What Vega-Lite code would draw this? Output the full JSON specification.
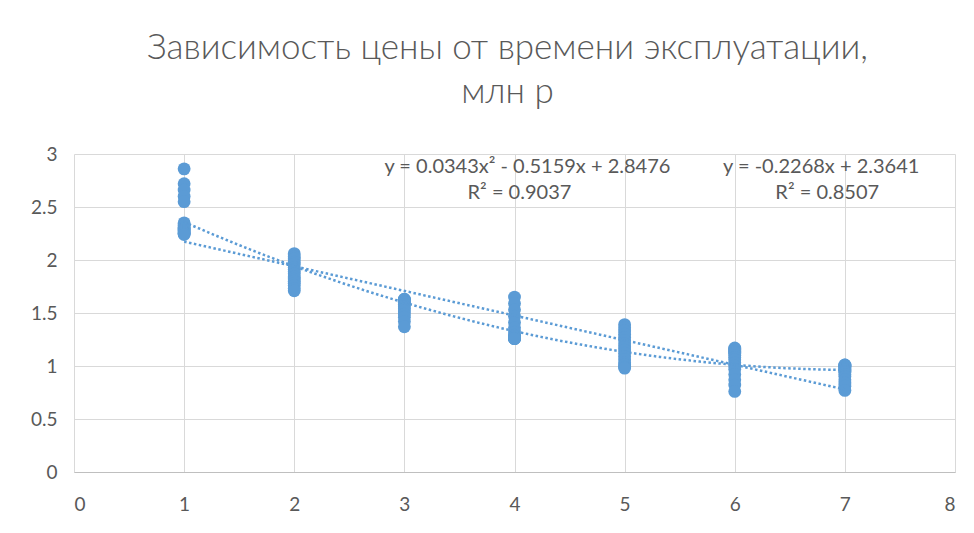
{
  "$schema": "https://vega.github.io/schema/vega-lite/v6.json",
  "width": 881,
  "height": 318,
  "autosize": {"type": "none"},
  "padding": {"left": 74, "top": 154, "right": 19, "bottom": 61},
  "background": "white",
  "title": {
    "text": ["Зависимость цены от времени эксплуатации,", "млн р"],
    "fontSize": 35,
    "font": "Lato, Noto Sans, sans-serif",
    "fontWeight": 300,
    "color": "#595959",
    "lineHeight": 44,
    "offset": 35,
    "dx": -7,
    "anchor": "middle"
  },
  "config": {
    "view": {"stroke": null},
    "axis": {
      "title": null,
      "ticks": false,
      "grid": true,
      "gridColor": "#d9d9d9",
      "gridWidth": 1,
      "labelFont": "Lato, Noto Sans, sans-serif",
      "labelFontSize": 19,
      "labelColor": "#595959"
    }
  },
  "datasets": {
    "points": [
      {"year": 1, "price": 2.86}, {"year": 1, "price": 2.72}, {"year": 1, "price": 2.66}, {"year": 1, "price": 2.60},
      {"year": 1, "price": 2.55}, {"year": 1, "price": 2.35}, {"year": 1, "price": 2.33}, {"year": 1, "price": 2.31},
      {"year": 1, "price": 2.30}, {"year": 1, "price": 2.29}, {"year": 1, "price": 2.28}, {"year": 1, "price": 2.27},
      {"year": 1, "price": 2.26}, {"year": 1, "price": 2.25}, {"year": 1, "price": 2.25}, {"year": 1, "price": 2.24},
      {"year": 2, "price": 2.06}, {"year": 2, "price": 2.03}, {"year": 2, "price": 2.01}, {"year": 2, "price": 1.98},
      {"year": 2, "price": 1.96}, {"year": 2, "price": 1.93}, {"year": 2, "price": 1.91}, {"year": 2, "price": 1.89},
      {"year": 2, "price": 1.87}, {"year": 2, "price": 1.84}, {"year": 2, "price": 1.82}, {"year": 2, "price": 1.80},
      {"year": 2, "price": 1.78}, {"year": 2, "price": 1.76}, {"year": 2, "price": 1.73}, {"year": 2, "price": 1.71},
      {"year": 3, "price": 1.63}, {"year": 3, "price": 1.63}, {"year": 3, "price": 1.62}, {"year": 3, "price": 1.62},
      {"year": 3, "price": 1.61}, {"year": 3, "price": 1.61}, {"year": 3, "price": 1.60}, {"year": 3, "price": 1.60},
      {"year": 3, "price": 1.58}, {"year": 3, "price": 1.56}, {"year": 3, "price": 1.54}, {"year": 3, "price": 1.52},
      {"year": 3, "price": 1.49}, {"year": 3, "price": 1.46}, {"year": 3, "price": 1.42}, {"year": 3, "price": 1.37},
      {"year": 4, "price": 1.65}, {"year": 4, "price": 1.59}, {"year": 4, "price": 1.53}, {"year": 4, "price": 1.47},
      {"year": 4, "price": 1.41}, {"year": 4, "price": 1.36}, {"year": 4, "price": 1.32}, {"year": 4, "price": 1.29},
      {"year": 4, "price": 1.28}, {"year": 4, "price": 1.27}, {"year": 4, "price": 1.27}, {"year": 4, "price": 1.26},
      {"year": 4, "price": 1.26}, {"year": 4, "price": 1.26}, {"year": 4, "price": 1.26}, {"year": 4, "price": 1.26},
      {"year": 5, "price": 1.39}, {"year": 5, "price": 1.36}, {"year": 5, "price": 1.33}, {"year": 5, "price": 1.30},
      {"year": 5, "price": 1.27}, {"year": 5, "price": 1.24}, {"year": 5, "price": 1.21}, {"year": 5, "price": 1.18},
      {"year": 5, "price": 1.15}, {"year": 5, "price": 1.12}, {"year": 5, "price": 1.09}, {"year": 5, "price": 1.06},
      {"year": 5, "price": 1.03}, {"year": 5, "price": 1.01}, {"year": 5, "price": 0.99}, {"year": 5, "price": 0.98},
      {"year": 6, "price": 1.17}, {"year": 6, "price": 1.16}, {"year": 6, "price": 1.15}, {"year": 6, "price": 1.14},
      {"year": 6, "price": 1.13}, {"year": 6, "price": 1.12}, {"year": 6, "price": 1.10}, {"year": 6, "price": 1.08},
      {"year": 6, "price": 1.06}, {"year": 6, "price": 1.03}, {"year": 6, "price": 1.00}, {"year": 6, "price": 0.97},
      {"year": 6, "price": 0.92}, {"year": 6, "price": 0.87}, {"year": 6, "price": 0.82}, {"year": 6, "price": 0.76},
      {"year": 7, "price": 1.01}, {"year": 7, "price": 1.01}, {"year": 7, "price": 1.00}, {"year": 7, "price": 1.00},
      {"year": 7, "price": 0.99}, {"year": 7, "price": 0.98}, {"year": 7, "price": 0.97}, {"year": 7, "price": 0.96},
      {"year": 7, "price": 0.95}, {"year": 7, "price": 0.94}, {"year": 7, "price": 0.92}, {"year": 7, "price": 0.90},
      {"year": 7, "price": 0.87}, {"year": 7, "price": 0.84}, {"year": 7, "price": 0.81}, {"year": 7, "price": 0.77}
    ],
    "notes": [
      {"nx": 4.117, "ny": 2.88, "label": "y = 0.0343x² - 0.5159x + 2.8476"},
      {"nx": 4.045, "ny": 2.635, "label": "R² = 0.9037"},
      {"nx": 6.785, "ny": 2.88, "label": "y = -0.2268x + 2.3641"},
      {"nx": 6.84, "ny": 2.635, "label": "R² = 0.8507"}
    ]
  },
  "layer": [
    {
      "data": {"name": "points"},
      "mark": {"type": "circle", "size": 165, "color": "#5B9BD5", "opacity": 1},
      "encoding": {
        "x": {
          "field": "year", "type": "quantitative",
          "scale": {"domain": [0, 8], "nice": false},
          "axis": {"values": [0, 1, 2, 3, 4, 5, 6, 7, 8], "format": "d", "domain": true, "domainColor": "#bfbfbf", "labelPadding": 23}
        },
        "y": {
          "field": "price", "type": "quantitative",
          "scale": {"domain": [0, 3], "nice": false},
          "axis": {"values": [0, 0.5, 1, 1.5, 2, 2.5, 3], "format": "~g", "domain": false, "labelPadding": 17}
        }
      }
    },
    {
      "data": {"name": "points"},
      "transform": [{"regression": "price", "on": "year", "method": "poly", "order": 2, "extent": [1, 7]}],
      "mark": {"type": "line", "strokeDash": [2.5, 2.5], "strokeWidth": 2.5, "color": "#5B9BD5"},
      "encoding": {
        "x": {"field": "year", "type": "quantitative"},
        "y": {"field": "price", "type": "quantitative"}
      }
    },
    {
      "data": {"name": "points"},
      "transform": [{"regression": "price", "on": "year", "method": "linear", "extent": [1, 7]}],
      "mark": {"type": "line", "strokeDash": [2.5, 2.5], "strokeWidth": 2.5, "color": "#5B9BD5"},
      "encoding": {
        "x": {"field": "year", "type": "quantitative"},
        "y": {"field": "price", "type": "quantitative"}
      }
    },
    {
      "data": {"name": "notes"},
      "mark": {"type": "text", "font": "Lato, Noto Sans, sans-serif", "fontSize": 20, "color": "#595959", "baseline": "middle", "align": "center"},
      "encoding": {
        "x": {"field": "nx", "type": "quantitative"},
        "y": {"field": "ny", "type": "quantitative"},
        "text": {"field": "label"}
      }
    }
  ]
}
